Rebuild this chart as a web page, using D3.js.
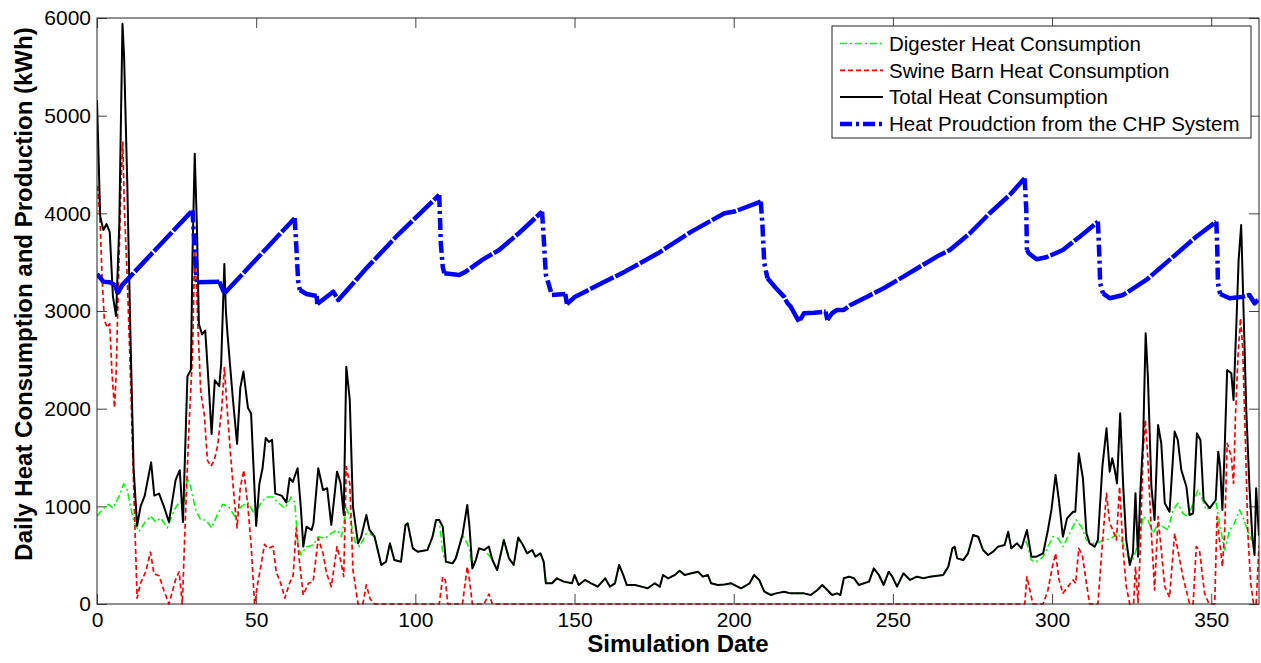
<!DOCTYPE html>
<html>
<head>
<meta charset="utf-8">
<script src="https://cdn.jsdelivr.net/npm/d3@7"></script>
<style>
  body { margin: 0; background: #fff; }
  svg { font-family: "Liberation Sans", Arial, sans-serif; }
</style>
</head>
<body>
<svg id="chart" width="1261" height="663"></svg>
<script>
// [simulation day, kWh] pairs
var digester = [[0,900],[2.1,980],[3.7,1020],[5,980],[6.8,1095],[8.4,1230],[9.5,1170],[10.5,1000],[11.6,840],[13.2,740],[14.7,820],[16.8,900],[18.4,840],[20,880],[22.1,780],[24.2,960],[25.8,1040],[27.4,1040],[28.4,1290],[29.5,1190],[31,960],[32.6,860],[34.2,860],[36,780],[37.9,920],[39.5,1020],[41.3,1000],[43.2,900],[45.3,1000],[47.4,1040],[49.5,920],[51.6,1040],[53.2,1095],[55.3,1095],[56.8,1040],[59,980],[61,1095],[62.1,1040],[63.2,600],[64,502],[65.8,587],[67.9,604],[69.5,689],[71.6,672],[73.6,723],[75.4,758],[76.8,689],[78.3,980],[79.4,894],[81,638],[82.5,587],[84.6,723],[85.6,723],[87.2,689],[89.3,400],[90.8,433],[92,621],[93.4,450],[95.5,433],[96.9,809],[97.6,826],[99.2,570],[100.7,536],[103.8,553],[105.4,689],[106.5,860],[107.5,860],[108.6,520],[109.6,433],[111.7,416],[112.7,467],[114.8,706],[116.3,620],[117,560],[117.9,365],[119,450],[120,570],[121.6,553],[123.1,500],[124.2,450],[125.7,348],[127.8,655],[129.4,467],[130.9,400],[132.3,680],[133.5,621],[135.1,519],[136.7,553],[137.7,485],[139.3,519],[140.3,433],[141,212],[142.9,212],[144.5,263],[146.6,229],[149.2,212],[150,297],[151.3,195],[153.3,246],[155.2,212],[157.3,178],[159.6,263],[161.1,178],[162.7,212],[164,400],[165.3,297],[166.4,195],[169,195],[171,178],[173,161],[175.2,212],[176.8,178],[177.8,297],[179.4,263],[181.5,297],[183,341],[184.6,297],[186.7,314],[188.8,331],[190.3,280],[191.9,297],[192.9,212],[195,195],[197.1,200],[199.2,212],[202.3,161],[205,212],[206.4,297],[208,246],[209.6,126],[211.7,92],[213.3,109],[215.8,126],[217.9,109],[220,109],[222.1,109],[224.2,92],[226.3,143],[227.8,195],[229.4,143],[230.9,92],[232.5,109],[233.5,92],[234.6,263],[236.2,280],[237.8,263],[239.3,195],[240.9,212],[242.5,229],[244,365],[245.6,297],[247.1,195],[248.7,331],[249.8,280],[251.3,178],[253.3,314],[255.4,246],[257.5,280],[259.6,263],[261.7,280],[265.8,297],[267.4,382],[268.7,570],[269.4,587],[270.2,467],[272.1,450],[273.6,519],[275.2,706],[276.8,689],[278.3,553],[279.9,502],[281.5,536],[283,587],[285.1,604],[286.2,740],[287.2,570],[289,621],[290.4,570],[291.4,672],[292.1,621],[293.5,450],[295.1,433],[297.2,485],[298.7,587],[300.3,689],[301.9,672],[303.4,587],[305.5,723],[307.6,860],[309.2,792],[310.8,655],[312.9,621],[315,638],[316.5,655],[318.6,672],[320.7,723],[322.3,621],[323.9,485],[325.4,450],[327,621],[328.6,894],[330.1,860],[331.7,723],[333.3,826],[334.8,792],[336.4,758],[338,963],[339.5,1031],[341.1,928],[342.7,894],[344.3,1031],[345.8,1167],[346.9,1099],[348.4,963],[350,997],[351.4,1065],[352.6,826],[354.2,553],[355.8,758],[357.3,826],[358.9,963],[359.9,894],[361,792],[362.6,655],[364.1,723],[365,750]]

var swineBarn = [[0.2,4280],[1,3890],[1.6,3340],[2.3,2910],[3.2,2830],[4,2870],[4.7,2370],[5.5,2010],[6,2330],[6.8,3380],[7.6,4360],[8.1,4730],[8.6,4050],[9.5,3340],[10.3,2560],[11,1780],[11.9,800],[12.6,60],[13.7,215],[15.3,330],[16.8,530],[17.9,310],[19.5,290],[21,140],[22.6,0],[24.7,250],[25.8,330],[26.8,0],[27.9,1000],[28.9,1820],[30,2560],[30.7,3620],[31.4,3150],[31.8,2760],[32.6,2170],[33.7,1940],[34.7,1470],[35.8,1410],[36.8,1470],[37.9,1620],[39.2,2010],[40,2420],[41,1940],[42.1,1470],[43.2,1040],[44,780],[45,1190],[46.1,1370],[47.4,1000],[48.4,610],[49.5,0],[50.5,215],[51.6,410],[52.6,610],[53.7,570],[55.3,590],[56.3,330],[57.9,195],[59,60],[60.5,215],[61.6,290],[62.6,780],[63.7,400],[64.8,92],[66.4,212],[67.9,229],[69.5,672],[71,519],[72.1,314],[73.6,178],[75.4,587],[76.5,450],[77.5,280],[78.3,1406],[79.4,1235],[80.4,348],[82,0],[83.5,0],[84.6,195],[85.8,51],[87.2,0],[107.5,0],[108.6,280],[109.4,246],[110.2,0],[114.8,0],[116.3,382],[117,246],[117.9,0],[121.6,0],[123.1,102],[124.2,0],[291.4,0],[292.1,280],[293,143],[294,0],[297.2,0],[298.7,143],[300.1,382],[301.1,519],[302.2,246],[303.4,109],[305,178],[306.6,246],[307.4,212],[308.4,570],[309.5,502],[310.8,212],[311.8,0],[314.4,0],[315.8,621],[317.1,1133],[318.1,826],[319.1,758],[320.2,655],[321.2,1201],[322.3,553],[323.3,178],[324.4,0],[325.6,0],[326.2,382],[327,17],[327.7,553],[328.6,1577],[329.3,1884],[330.1,1475],[331.2,723],[332.2,143],[333.3,894],[334.3,553],[335.4,178],[336.9,68],[338.5,723],[339.5,553],[341.1,280],[343.2,0],[344.3,0],[345.3,587],[346.3,553],[347.9,109],[349.3,0],[351.1,0],[351.8,894],[352.6,655],[353.5,382],[354.2,723],[355,1645],[356.3,1509],[357,1235],[357.6,1918],[358.4,2533],[359.2,2926],[359.9,2601],[360.8,1577],[361.5,723],[362.4,212],[363.3,0],[364.1,0],[365,600]]

var total = [[0,5160],[1,3970],[2,3830],[3,3890],[4,3810],[5,3150],[6,2950],[7,3890],[8,5940],[8.5,5610],[9.5,4320],[10.5,2760],[11.5,1390],[12.6,800],[13.7,1000],[15,1110],[17,1450],[18,1110],[19.5,1130],[21,1000],[22.6,840],[24.7,1270],[26,1370],[27,840],[28.4,2330],[29.5,2400],[30,3580],[30.7,4610],[31.4,3850],[32,2870],[33,2760],[34,2800],[35,2290],[36,1740],[37,2290],[38.4,2230],[39,2460],[40,3480],[40.5,2990],[41,2760],[42.6,2130],[44,1640],[45,2210],[46,2380],[47.4,2010],[48.4,1950],[50,800],[51,1230],[52,1390],[53,1700],[54,1660],[55,1680],[56,1130],[58,1110],[59.5,1040],[60.5,1290],[61.5,1250],[63,1390],[64,1000],[64.8,587],[65.8,792],[67.4,758],[68,826],[69.5,1390],[71,1167],[72.3,1185],[73.6,809],[75.4,1355],[76.5,1240],[77.5,911],[78.3,2430],[79.4,2089],[80.4,996],[82,621],[83,690],[84.6,911],[85.6,758],[87.2,689],[89.3,400],[90.8,433],[92,621],[93.4,450],[95.5,433],[96.9,809],[97.6,826],[99.2,570],[100.7,536],[103.8,553],[105.4,689],[106.5,860],[107.5,860],[108.6,792],[109.6,433],[111.7,416],[112.7,467],[114.8,706],[116.3,1014],[117,792],[117.9,365],[119,450],[120,570],[121.6,553],[123.1,587],[124.2,450],[125.7,348],[127.8,655],[129.4,467],[130.9,400],[132.3,680],[133.5,621],[135.1,519],[136.7,553],[137.7,485],[139.3,519],[140.3,433],[141,212],[142.9,212],[144.5,263],[146.6,229],[149.2,212],[150,297],[151.3,195],[153.3,246],[155.2,212],[157.3,178],[159.6,263],[161.1,178],[162.7,212],[164,400],[165.3,297],[166.4,195],[169,195],[171,178],[173,161],[175.2,212],[176.8,178],[177.8,297],[179.4,263],[181.5,297],[183,341],[184.6,297],[186.7,314],[188.8,331],[190.3,280],[191.9,297],[192.9,212],[195,195],[197.1,200],[199.2,212],[202.3,161],[205,212],[206.4,297],[208,246],[209.6,126],[211.7,92],[213.3,109],[215.8,126],[217.9,109],[220,109],[222.1,109],[224.2,92],[226.3,143],[227.8,195],[229.4,143],[230.9,92],[232.5,109],[233.5,92],[234.6,263],[236.2,280],[237.8,263],[239.3,195],[240.9,212],[242.5,229],[244,365],[245.6,297],[247.1,195],[248.7,331],[249.8,280],[251.3,178],[253.3,314],[255.4,246],[257.5,280],[259.6,263],[261.7,280],[265.8,297],[267.4,382],[268.7,570],[269.4,587],[270.2,467],[272.1,450],[273.6,519],[275.2,706],[276.8,689],[278.3,553],[279.9,502],[281.5,536],[283,587],[285.1,604],[286.2,740],[287.2,570],[289,621],[290.4,570],[292.1,758],[293.5,485],[295.1,485],[297.2,519],[298.7,758],[299.8,963],[301.1,1321],[302.2,1048],[303.4,689],[304.7,877],[306.6,945],[307.3,945],[308.4,1543],[309.7,1287],[310.8,723],[311.8,621],[313.4,587],[314.4,655],[315.8,1406],[317.1,1799],[318.1,1355],[318.9,1492],[319.7,1372],[320.4,1235],[321.4,1952],[322.3,1235],[323.3,655],[324.4,400],[325.4,519],[326.2,1133],[327,485],[327.7,1133],[328.6,1679],[329.4,2772],[330.1,2328],[331.2,1201],[332.2,860],[333.3,1833],[334.3,1645],[335.4,1031],[336.9,945],[338.5,1765],[339.5,1679],[340.6,1372],[342.2,1201],[343.2,911],[344.3,928],[345.5,1747],[346.6,1679],[347.6,1065],[349.5,980],[351.4,1065],[352.2,1560],[352.8,1406],[353.5,963],[354.2,1577],[355,2396],[356.3,2362],[357,2089],[357.9,2874],[358.6,3523],[359.4,3881],[360.2,2943],[361,1986],[362,1201],[362.9,689],[363.6,502],[364.1,1185],[365,700]]

var chp = [[0,3380],[2,3300],[4,3295],[5.7,3265],[6.5,3180],[7.9,3265],[30,4030],[30.5,3730],[30.9,3500],[31.4,3295],[38.4,3300],[40,3180],[62.1,3950],[62.6,3660],[63.2,3300],[63.7,3215],[65.8,3174],[69,3154],[69.2,3072],[74.2,3198],[75.8,3113],[84.6,3437],[95,3796],[107.5,4188],[108,3693],[108.6,3454],[109.1,3386],[113.8,3369],[115.8,3403],[121,3523],[126.3,3625],[132.5,3796],[139.8,4017],[140.3,3760],[141,3369],[141.8,3284],[142.9,3164],[147.1,3174],[147.6,3072],[150.2,3147],[158.5,3284],[165.8,3403],[176.2,3591],[186.7,3813],[197.1,4001],[200.2,4018],[208.5,4120],[209,3898],[209.6,3489],[210.6,3335],[213.3,3233],[215.8,3147],[216.9,3079],[217.9,3045],[220.5,2891],[222.1,2977],[225.2,2983],[228.9,2994],[229.4,2908],[230.9,2977],[232.5,3011],[234.6,3011],[236.7,3062],[241.9,3147],[247.1,3233],[253.3,3352],[263.8,3557],[267.9,3625],[274.2,3796],[280.4,4001],[286.7,4188],[291.4,4359],[291.9,4035],[292.1,3625],[292.7,3591],[295.1,3530],[298.2,3550],[303.4,3625],[308.7,3761],[314.4,3915],[314.9,3523],[315.1,3284],[316,3181],[318.1,3130],[322.3,3164],[329.6,3318],[336.9,3523],[345.3,3761],[351.6,3915],[351.9,3625],[352.1,3284],[352.8,3174],[355.8,3130],[360,3147],[362,3164],[363.6,3079],[364.7,3113]]

var seriesNames = ["Digester Heat Consumption", "Swine Barn Heat Consumption", "Total Heat Consumption", "Heat Proudction from the CHP System"]
var xTicks = [0, 50, 100, 150, 200, 250, 300, 350]
var yTicks = [0, 1000, 2000, 3000, 4000, 5000, 6000]

var marginLeft = 97, marginTop = 18
var width = 1162, height = 586

var svg = d3.select("#chart")
var g = svg.append("g")
  .attr("transform", "translate(" + marginLeft + "," + marginTop + ")")

var x = d3.scaleLinear().domain([0, 365]).range([0, width])
var y = d3.scaleLinear().domain([0, 6000]).range([height, 0])

// ticks point inward on all four sides, labels only bottom/left
g.append("g")
  .attr("transform", "translate(0," + height + ")")
  .call(d3.axisBottom(x).tickValues(xTicks).tickSize(-10).tickPadding(8).tickFormat(d3.format("d")))
  .call(function(a) { a.select(".domain").remove() })
  .selectAll("text").attr("font-size", 21).attr("font-family", "Liberation Sans, Arial, sans-serif")
g.append("g")
  .call(d3.axisLeft(y).tickValues(yTicks).tickSize(-10).tickPadding(6).tickFormat(d3.format("d")))
  .call(function(a) { a.select(".domain").remove() })
  .selectAll("text").attr("font-size", 21).attr("font-family", "Liberation Sans, Arial, sans-serif")
g.append("g")
  .call(d3.axisTop(x).tickValues(xTicks).tickSize(-10).tickFormat(""))
  .call(function(a) { a.select(".domain").remove() })
g.append("g")
  .attr("transform", "translate(" + width + ",0)")
  .call(d3.axisRight(y).tickValues(yTicks).tickSize(-10).tickFormat(""))
  .call(function(a) { a.select(".domain").remove() })
g.selectAll(".tick line").attr("stroke", "#444")

g.append("clipPath").attr("id", "clip")
  .append("rect")
  .attr("x", 0).attr("y", -3)
  .attr("width", width).attr("height", height + 4)

var line = d3.line()
  .x(function(d) { return x(d[0]) })
  .y(function(d) { return y(d[1]) })

var styles = [
  { data: digester, color: "#00ff00", w: 1.6, dash: "7,3,2,3" },
  { data: swineBarn, color: "#ff0000", w: 1.7, dash: "5,3" },
  { data: total, color: "#000000", w: 2, dash: null },
  { data: chp, color: "#0000ff", w: 4.5, dash: "12,4,3,4" }
]

var plot = g.append("g").attr("clip-path", "url(#clip)")
plot.selectAll("path.cons")
  .data(styles.slice(0, 3))
  .enter()
  .append("path")
  .attr("class", "cons")
  .attr("d", function(s) { return line(s.data) })
  .attr("fill", "none")
  .attr("stroke", function(s) { return s.color })
  .attr("stroke-width", function(s) { return s.w })
  .attr("stroke-dasharray", function(s) { return s.dash })
  .attr("stroke-linejoin", "round")

// the CHP line looks almost solid on its gentle slopes and clearly
// dash-dotted on the steep drops, so split it into runs
var runs = []
d3.pairs(chp).forEach(function(p) {
  var steep = Math.abs(y(p[1][1]) - y(p[0][1])) > 2 * Math.abs(x(p[1][0]) - x(p[0][0]))
  var last = runs[runs.length - 1]
  if (last && last.steep === steep) last.pts.push(p[1])
  else runs.push({ steep: steep, pts: [p[0], p[1]] })
})
plot.selectAll("path.chp")
  .data(runs)
  .enter()
  .append("path")
  .attr("class", "chp")
  .attr("d", function(r) { return line(r.pts) })
  .attr("fill", "none")
  .attr("stroke", "#0000ff")
  .attr("stroke-width", 4.5)
  .attr("stroke-dasharray", function(r) { return r.steep ? "12,4,3,4" : "26,2" })
  .attr("stroke-linejoin", "round")

g.append("rect")
  .attr("width", width).attr("height", height)
  .attr("fill", "none").attr("stroke", "#222").attr("stroke-width", 1)

// legend
var lg = svg.append("g").attr("transform", "translate(832,26)")
lg.append("rect")
  .attr("width", 419).attr("height", 112)
  .attr("fill", "#fff").attr("stroke", "#222")
var rows = lg.selectAll("g.row")
  .data(styles)
  .enter()
  .append("g")
  .attr("class", "row")
  .attr("transform", function(s, i) { return "translate(0," + (17.5 + i * 26.8) + ")" })
rows.append("line")
  .attr("x1", 8).attr("x2", 51)
  .attr("stroke", function(s) { return s.color })
  .attr("stroke-width", function(s) { return s.w })
  .attr("stroke-dasharray", function(s) { return s.dash })
rows.append("text")
  .attr("x", 57).attr("dy", "0.36em")
  .attr("font-size", 20.5)
  .text(function(s, i) { return seriesNames[i] })

svg.append("text")
  .attr("x", marginLeft + width / 2).attr("y", 652)
  .attr("text-anchor", "middle")
  .attr("font-size", 24).attr("font-weight", "bold")
  .text("Simulation Date")
svg.append("text")
  .attr("transform", "translate(32," + (marginTop + height / 2 - 17) + ") rotate(-90)")
  .attr("text-anchor", "middle")
  .attr("font-size", 24).attr("font-weight", "bold")
  .text("Daily Heat Consumption and Production (kWh)")
</script>
</body>
</html>
